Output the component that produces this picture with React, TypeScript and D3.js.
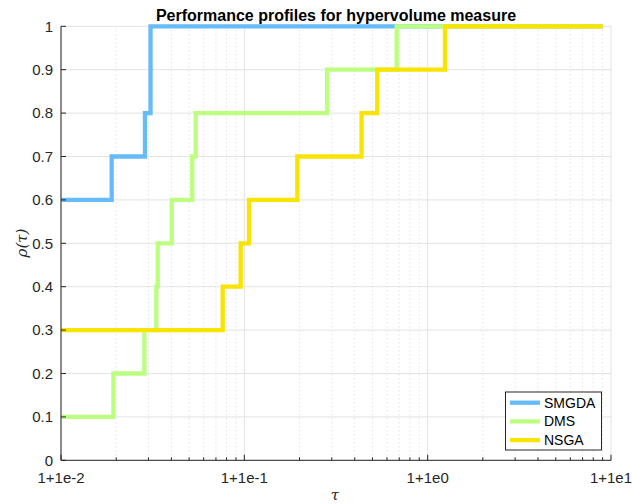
import React from 'react';
import * as d3 from 'd3';

// step breakpoints (tau, rho)
const smgdaTau = [0.01, 0.0189, 0.0287, 0.0308, 9.0];
const smgdaRho = [0.6, 0.7, 0.8, 1.0, 1.0];

const dmsTau = [0.01, 0.0193, 0.0285, 0.0331, 0.0337, 0.0402, 0.052, 0.0543, 0.2825, 0.678, 9.0];
const dmsRho = [0.1, 0.2, 0.3, 0.4, 0.5, 0.6, 0.7, 0.8, 0.9, 1.0, 1.0];

const nsgaTau = [0.01, 0.0762, 0.0955, 0.106, 0.1946, 0.436, 0.531, 1.243, 9.0];
const nsgaRho = [0.3, 0.4, 0.5, 0.6, 0.7, 0.8, 0.9, 1.0, 1.0];

const seriesNames = ['SMGDA', 'DMS', 'NSGA'];
const seriesColors = ['#66bbfa', '#bcff80', '#f9e300'];

const xTickValues = [0.01, 0.1, 1, 10];
const xTickLabels = ['1+1e-2', '1+1e-1', '1+1e0', '1+1e1'];
const yTickValues = [0, 0.1, 0.2, 0.3, 0.4, 0.5, 0.6, 0.7, 0.8, 0.9, 1];

const W = 632;
const H = 504;
const margin = { top: 26.3, right: 21, bottom: 43.7, left: 61 };
const font = '"Liberation Sans", Arial, Helvetica, sans-serif';

const App: React.FC = () => {
  const x = d3.scaleLog().domain([0.01, 10]).range([margin.left, W - margin.right]);
  const y = d3.scaleLinear().domain([0, 1]).range([H - margin.bottom, margin.top]);

  const series = [
    { tau: smgdaTau, rho: smgdaRho },
    { tau: dmsTau, rho: dmsRho },
    { tau: nsgaTau, rho: nsgaRho },
  ];

  const line = d3.line<[number, number]>()
    .x(d => x(d[0]))
    .y(d => y(d[1]))
    .curve(d3.curveStepAfter);

  // minor log ticks 2..9 x 10^k
  const minor: number[] = [];
  for (let e = -2; e < 1; e++) {
    for (let m = 2; m <= 9; m++) minor.push(m * Math.pow(10, e));
  }

  const x0 = margin.left;
  const x1 = W - margin.right;
  const yb = H - margin.bottom;
  const yt = margin.top;

  const legX = 505.5;
  const legY = 392;

  return (
    <svg width={W} height={H} style={{ position: 'fixed', left: 0, top: 0, background: '#fff' }}>
      <rect x={0} y={0} width={W} height={H} fill="#fff" />

      {/* grid */}
      {minor.map((v, i) => (
        <line key={'mg' + i} x1={x(v)} x2={x(v)} y1={yt} y2={yb}
          stroke="#d4d4d4" strokeWidth={1} strokeDasharray="1,3" />
      ))}
      {yTickValues.map((v, i) => (
        <line key={'yg' + i} x1={x0} x2={x1} y1={y(v)} y2={y(v)} stroke="#e3e3e3" strokeWidth={1} />
      ))}
      {xTickValues.map((v, i) => (
        <line key={'xg' + i} x1={x(v)} x2={x(v)} y1={yt} y2={yb} stroke="#e3e3e3" strokeWidth={1} />
      ))}

      {/* profiles */}
      {series.map((s, i) => (
        <path key={'s' + i}
          d={line(s.tau.map((t, j) => [t, s.rho[j]] as [number, number])) || ''}
          fill="none" stroke={seriesColors[i]} strokeWidth={4.3} strokeLinejoin="miter" />
      ))}

      {/* axes */}
      <line x1={x0} x2={x0} y1={yt} y2={yb} stroke="#262626" strokeWidth={1} />
      <line x1={x0} x2={x1} y1={yb} y2={yb} stroke="#262626" strokeWidth={1} />
      {yTickValues.map((v, i) => (
        <g key={'yt' + i}>
          <line x1={x0} x2={x0 + 5} y1={y(v)} y2={y(v)} stroke="#262626" />
          <text x={x0 - 8} y={y(v)} dy="0.35em" textAnchor="end" fontFamily={font} fontSize={15} fill="#262626">
            {d3.format('~g')(v)}
          </text>
        </g>
      ))}
      {minor.map((v, i) => (
        <line key={'mt' + i} x1={x(v)} x2={x(v)} y1={yb} y2={yb - 3} stroke="#262626" />
      ))}
      {xTickValues.map((v, i) => (
        <g key={'xt' + i}>
          <line x1={x(v)} x2={x(v)} y1={yb} y2={yb - 5.5} stroke="#262626" />
          <text x={x(v)} y={483} textAnchor="middle" fontFamily={font} fontSize={15} fill="#262626">
            {xTickLabels[i]}
          </text>
        </g>
      ))}

      {/* labels */}
      <text x={(x0 + x1) / 2} y={20.7} textAnchor="middle" fontFamily={font} fontSize={16} fontWeight="bold" fill="#000">
        Performance profiles for hypervolume measure
      </text>
      <text x={(x0 + x1) / 2 - 1} y={500} textAnchor="middle" fontFamily='"DejaVu Serif", serif' fontStyle="italic" fontSize={15} fill="#262626">
        τ
      </text>
      <text transform="translate(27,243) rotate(-90)" textAnchor="middle" fontFamily='"DejaVu Serif", serif' fontStyle="italic" fontSize={15} fill="#262626">
        ρ(τ)
      </text>

      {/* legend */}
      <rect x={legX} y={legY} width={96} height={58} fill="#fff" stroke="#262626" strokeWidth={1} />
      {seriesNames.map((n, i) => (
        <g key={'lg' + i}>
          <line x1={legX + 4.5} x2={legX + 34.5} y1={legY + 10.7 + i * 18.7} y2={legY + 10.7 + i * 18.7}
            stroke={seriesColors[i]} strokeWidth={4.3} />
          <text x={legX + 38.5} y={legY + 10.7 + i * 18.7} dy="0.36em" fontFamily={font} fontSize={14} fill="#000">
            {n}
          </text>
        </g>
      ))}
    </svg>
  );
};

export default App;
